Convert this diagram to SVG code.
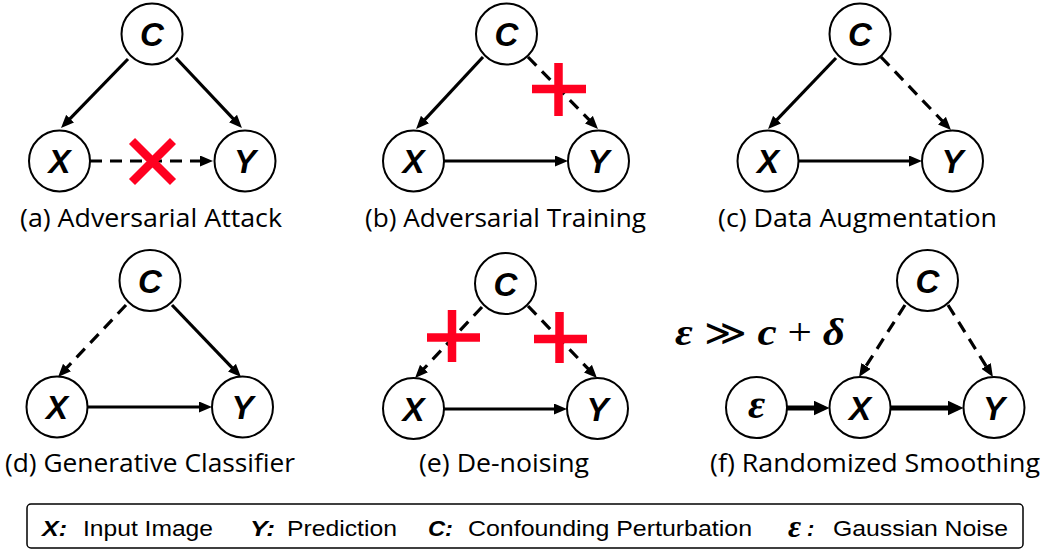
<svg xmlns="http://www.w3.org/2000/svg" width="1042" height="555" viewBox="0 0 1042 555">
<defs>
<style>
.node circle{fill:#fff;stroke:#000;stroke-width:2}
.node text{font-family:"Liberation Sans",Arial,sans-serif;font-weight:bold;font-style:italic;font-size:33px;text-anchor:middle;fill:#000}
.node text.eps{font-family:"Liberation Serif","Times New Roman",serif;font-size:42px}
.edge{stroke:#000;stroke-width:3.2;fill:none;marker-end:url(#arr)}
.dash{stroke-dasharray:12 8}
.thick{stroke-width:5;marker-end:url(#arrT)}
.cross{stroke:#ff0020;stroke-width:8.5;fill:none}
.cap{font-family:"Open Sans","Noto Sans",sans-serif;font-size:25px;fill:#000}
.leg{font-family:"Liberation Sans",Arial,sans-serif;font-size:22px;fill:#000}
.legb{font-family:"Liberation Sans",Arial,sans-serif;font-size:22px;font-weight:bold;font-style:italic;fill:#000}
</style>
<marker id="arr" viewBox="0 0 13 11" refX="8" refY="5.5" markerWidth="13" markerHeight="11" markerUnits="userSpaceOnUse" orient="auto">
<path d="M0,0 L13,5.5 L0,11 z" fill="#000"/>
</marker>
<marker id="arrT" viewBox="0 0 16 15" refX="10" refY="7.5" markerWidth="16" markerHeight="15" markerUnits="userSpaceOnUse" orient="auto">
<path d="M0,0 L16,7.5 L0,15 z" fill="#000"/>
</marker>
</defs>
<rect width="1042" height="555" fill="#fff"/>

<g id="connectors">
<line class="edge" x1="128" y1="59" x2="64.5" y2="124.4"/>
<line class="edge" x1="176" y1="58" x2="238.5" y2="124.4"/>
<line class="edge dash" x1="90" y1="161" x2="208" y2="161"/>
<line class="edge" x1="483" y1="57" x2="419.5" y2="125.4"/>
<line class="edge dash" x1="528" y1="57" x2="594.5" y2="125.4"/>
<line class="edge" x1="444" y1="161" x2="563" y2="161"/>
<line class="edge" x1="836" y1="58" x2="771.5" y2="125.4"/>
<line class="edge dash" x1="881" y1="57" x2="947.5" y2="126.4"/>
<line class="edge" x1="798.5" y1="161" x2="917" y2="161"/>
<line class="edge dash" x1="126" y1="305" x2="61.5" y2="373.4"/>
<line class="edge" x1="172" y1="305" x2="237.5" y2="373.4"/>
<line class="edge" x1="87.5" y1="407" x2="207" y2="407"/>
<line class="edge dash" x1="482" y1="307" x2="418.5" y2="374.4"/>
<line class="edge dash" x1="528" y1="306" x2="593.5" y2="374.4"/>
<line class="edge" x1="444" y1="409" x2="562" y2="409"/>
<line class="edge dash" x1="905" y1="305" x2="861.7" y2="372.8"/>
<line class="edge dash" x1="948" y1="305" x2="990.3" y2="372.8"/>
<line class="edge thick" x1="787" y1="408" x2="823.5" y2="408"/>
<line class="edge thick" x1="891" y1="408" x2="957.5" y2="408"/>
</g>

<g id="crosses">
<path class="cross" d="M132,141 L173,182 M173,141 L132,182"/>
<path class="cross" d="M532,89 L586,89 M558.5,63 L558.5,116"/>
<path class="cross" d="M427,337.5 L480,337.5 M452,310 L452,362"/>
<path class="cross" d="M534,339 L587,339 M559.5,312 L559.5,363"/>
</g>

<g id="a-C" class="node"><circle cx="152" cy="34" r="30.5"/><text x="152" y="46">C</text></g>
<g id="a-X" class="node"><circle cx="59.5" cy="161" r="30.5"/><text x="59.5" y="173">X</text></g>
<g id="a-Y" class="node"><circle cx="245" cy="161" r="30.5"/><text x="245" y="173">Y</text></g>

<g id="b-C" class="node"><circle cx="506.5" cy="34" r="30.5"/><text x="506.5" y="46">C</text></g>
<g id="b-X" class="node"><circle cx="413.5" cy="161" r="30.5"/><text x="413.5" y="173">X</text></g>
<g id="b-Y" class="node"><circle cx="598.5" cy="161" r="30.5"/><text x="598.5" y="173">Y</text></g>

<g id="c-C" class="node"><circle cx="860" cy="34" r="30.5"/><text x="860" y="46">C</text></g>
<g id="c-X" class="node"><circle cx="768" cy="161" r="30.5"/><text x="768" y="173">X</text></g>
<g id="c-Y" class="node"><circle cx="952.5" cy="161" r="30.5"/><text x="952.5" y="173">Y</text></g>

<g id="d-C" class="node"><circle cx="150" cy="280.5" r="30.5"/><text x="150" y="292.5">C</text></g>
<g id="d-X" class="node"><circle cx="57" cy="407" r="30.5"/><text x="57" y="419">X</text></g>
<g id="d-Y" class="node"><circle cx="242.5" cy="407" r="30.5"/><text x="242.5" y="419">Y</text></g>

<g id="e-C" class="node"><circle cx="505.5" cy="283.5" r="30.5"/><text x="505.5" y="295.5">C</text></g>
<g id="e-X" class="node"><circle cx="413.5" cy="408.5" r="30.5"/><text x="413.5" y="420.5">X</text></g>
<g id="e-Y" class="node"><circle cx="597.5" cy="408.5" r="30.5"/><text x="597.5" y="420.5">Y</text></g>

<g id="f-C" class="node"><circle cx="927.5" cy="280.5" r="30.5"/><text x="927.5" y="292.5">C</text></g>
<g id="f-E" class="node"><circle cx="756.5" cy="407.5" r="30.5"/><text class="eps" x="756.5" y="417.5">ε</text></g>
<g id="f-X" class="node"><circle cx="860" cy="407.5" r="30.5"/><text x="860" y="419.5">X</text></g>
<g id="f-Y" class="node"><circle cx="994" cy="407.5" r="30.5"/><text x="994" y="419.5">Y</text></g>

<g id="captions">
<text class="cap" x="20" y="227" textLength="262" lengthAdjust="spacingAndGlyphs">(a) Adversarial Attack</text>
<text class="cap" x="365" y="227" textLength="281" lengthAdjust="spacingAndGlyphs">(b) Adversarial Training</text>
<text class="cap" x="718" y="227" textLength="279" lengthAdjust="spacingAndGlyphs">(c) Data Augmentation</text>
<text class="cap" x="5" y="472" textLength="290" lengthAdjust="spacingAndGlyphs">(d) Generative Classifier</text>
<text class="cap" x="419" y="472" textLength="170" lengthAdjust="spacingAndGlyphs">(e) De-noising</text>
<text class="cap" x="710" y="472" textLength="330" lengthAdjust="spacingAndGlyphs">(f) Randomized Smoothing</text>
<text x="675" y="345" textLength="170" lengthAdjust="spacingAndGlyphs" style="font-family:'Liberation Serif','DejaVu Serif',serif;font-weight:bold;font-style:italic;font-size:38px">ε <tspan style="font-weight:normal;font-style:normal;font-family:'DejaVu Serif',serif;font-size:36px">≫</tspan> c <tspan style="font-weight:normal;font-style:normal">+</tspan> δ</text>
</g>

<g id="legend">
<rect x="27" y="504" width="996" height="44" rx="4" fill="#fff" stroke="#000" stroke-width="1.5"/>
<text class="legb" x="42" y="536" textLength="25" lengthAdjust="spacingAndGlyphs">X:</text>
<text class="leg" x="83" y="536" textLength="130" lengthAdjust="spacingAndGlyphs">Input Image</text>
<text class="legb" x="250" y="536" textLength="25" lengthAdjust="spacingAndGlyphs">Y:</text>
<text class="leg" x="287" y="536" textLength="110" lengthAdjust="spacingAndGlyphs">Prediction</text>
<text class="legb" x="428" y="536" textLength="25" lengthAdjust="spacingAndGlyphs">C:</text>
<text class="leg" x="468" y="536" textLength="284" lengthAdjust="spacingAndGlyphs">Confounding Perturbation</text>
<text x="788" y="537" style="font-family:'Liberation Serif',serif;font-weight:bold;font-style:italic;font-size:32px">ε</text><text class="legb" x="807" y="536">:</text>
<text class="leg" x="833" y="536" textLength="175" lengthAdjust="spacingAndGlyphs">Gaussian Noise</text>
</g>
</svg>
